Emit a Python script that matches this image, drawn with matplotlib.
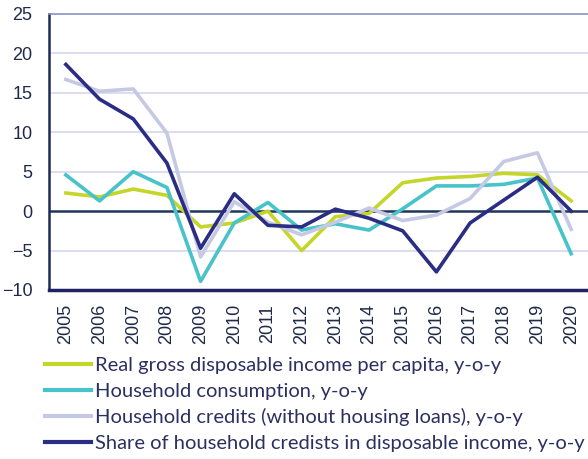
import matplotlib
matplotlib.use("Agg")
from matplotlib import pyplot as plt

# Data
years = ['2005', '2006', '2007', '2008', '2009', '2010', '2011', '2012',
         '2013', '2014', '2015', '2016', '2017', '2018', '2019', '2020']

income = [2.3, 1.8, 2.8, 2.0, -2.0, -1.5, 0.0, -5.0, -0.7, -0.3, 3.6, 4.2, 4.4, 4.8, 4.6, 1.3]
consumption = [4.6, 1.3, 5.0, 3.0, -8.9, -1.5, 1.1, -2.4, -1.6, -2.4, 0.3, 3.2, 3.2, 3.4, 4.2, -5.4]
credits = [16.7, 15.2, 15.5, 9.9, -5.8, 1.2, -1.4, -3.0, -1.4, 0.4, -1.2, -0.5, 1.6, 6.3, 7.4, -2.3]
share = [18.6, 14.2, 11.7, 6.1, -4.7, 2.2, -1.8, -2.0, 0.25, -0.9, -2.5, -7.7, -1.5, 1.4, 4.3, 0.0]

labels = ['Real gross disposable income per capita, y-o-y',
          'Household consumption, y-o-y',
          'Household credits (without housing loans), y-o-y',
          'Share of household credists in disposable income, y-o-y']

fig = plt.figure(figsize=(5.88, 4.59), dpi=100)
ax = fig.add_axes([49/588, 1 - 290/459, 1 - 49/588, 276/459])

x = list(range(len(years)))
ax.plot(x, income, color='#c5d62b', lw=2.6, label=labels[0], zorder=3)
ax.plot(x, consumption, color='#47c3c9', lw=2.6, label=labels[1], zorder=3)
ax.plot(x, credits, color='#c6c9e4', lw=2.6, label=labels[2], zorder=3)
ax.plot(x, share, color='#2b2d85', lw=2.6, label=labels[3], zorder=4)

ax.set_xlim(-0.5, len(years) - 0.5)
ax.set_ylim(-10, 25)
ax.set_yticks(range(-10, 26, 5))
ax.set_xticks(x)
ax.set_xticklabels(years, rotation=90)

# grid and zero line
for v in range(-5, 25, 5):
    if v != 0:
        ax.axhline(v, color='#d5d7ee', lw=1.2, zorder=1)
ax.axhline(0, color='#1f3659', lw=1.8, zorder=2)

ax.spines['right'].set_visible(False)
ax.spines['top'].set_color('#8c90c2')
ax.spines['top'].set_linewidth(1.2)
ax.spines['left'].set_color('#1f2a55')
ax.spines['left'].set_linewidth(1.8)
ax.spines['bottom'].set_color('#1f2160')
ax.spines['bottom'].set_linewidth(2.5)

ax.tick_params(length=0, labelsize=13, colors='#1f2a4a')
ax.tick_params(axis='y', pad=12)
ax.tick_params(axis='x', pad=10)
for t in ax.get_xticklabels() + ax.get_yticklabels():
    t.set_fontfamily('Liberation Sans')

leg = fig.legend(loc='upper left', bbox_to_anchor=(45/588, 1 - 357/459),
                 frameon=False, handlelength=2.3, handletextpad=0.2,
                 labelspacing=0.42, borderaxespad=0, borderpad=0,
                 prop={'family': 'Lato', 'size': 14.5})
for t in leg.get_texts():
    t.set_color('#2b3060')
for l in leg.get_lines():
    l.set_linewidth(3)

fig.savefig('out.png', dpi=100)
